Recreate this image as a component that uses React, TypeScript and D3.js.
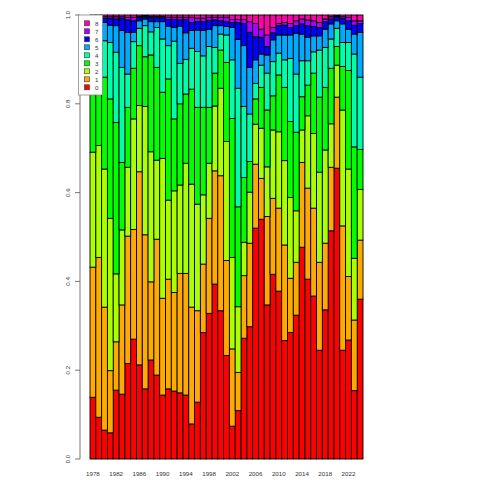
import React from "react";
import * as d3 from "d3";

const years = d3.range(1978, 2025).map(String);
const categories = ["0", "1", "2", "3", "4", "5", "6", "7", "8"];
const colors = ["#FF0000", "#FFAA00", "#AAFF00", "#00FF00", "#00FFAA", "#00AAFF", "#0000FF", "#AA00FF", "#FF00AA"];

// share of each category per year (1978..2024)
const s0 = [.139, .094, .065, .059, .155, .146, .215, .270, .212, .158, .223, .189, .144, .158, .153, .149, .144, .079, .128, .285, .328, .394, .334, .233, .074, .109, .272, .298, .520, .540, .347, .416, .378, .267, .285, .324, .477, .405, .367, .245, .336, .514, .655, .245, .268, .154, .360];
const s1 = [.293, .360, .277, .140, .109, .201, .287, .247, .435, .347, .176, .306, .218, .247, .222, .269, .274, .263, .206, .154, .214, .255, .304, .214, .174, .086, .141, .188, .144, .092, .199, .171, .187, .215, .122, .119, .191, .205, .198, .198, .150, .143, .160, .280, .143, .159, .133];
const s2 = [.259, .252, .311, .343, .153, .169, .155, .249, .149, .289, .293, .178, .315, .178, .229, .199, .248, .277, .240, .156, .124, .146, .197, .268, .206, .148, .075, .115, .090, .113, .112, .154, .172, .190, .182, .116, .073, .163, .168, .203, .210, .098, .072, .261, .242, .139, .114];
const s3 = [.169, .164, .207, .269, .341, .152, .135, .114, .135, .112, .218, .209, .149, .273, .162, .183, .156, .214, .218, .197, .126, .074, .086, .178, .313, .225, .146, .069, .057, .092, .128, .077, .128, .165, .171, .177, .075, .069, .136, .169, .141, .125, .042, .098, .222, .251, .090];
const s4 = [.070, .070, .082, .127, .158, .214, .075, .060, .039, .070, .052, .090, .120, .075, .175, .091, .078, .092, .126, .116, .137, .058, .036, .062, .132, .267, .160, .107, .035, .050, .083, .077, .049, .062, .142, .131, .081, .055, .048, .106, .090, .066, .041, .054, .063, .209, .163];
const s5 = [.040, .035, .041, .039, .060, .083, .094, .021, .017, .015, .023, .013, .039, .044, .031, .084, .060, .040, .048, .057, .039, .049, .019, .019, .073, .110, .137, .105, .053, .025, .041, .049, .041, .056, .053, .092, .060, .053, .036, .032, .041, .034, .017, .042, .030, .045, .101];
const s6 = [.020, .015, .009, .015, .015, .027, .028, .026, .007, .005, .009, .009, .009, .015, .018, .014, .030, .018, .019, .020, .020, .013, .011, .011, .011, .038, .050, .079, .052, .038, .019, .016, .021, .022, .017, .017, .023, .026, .021, .019, .017, .011, .009, .012, .019, .020, .020];
const s7 = [.005, .006, .004, .004, .005, .004, .006, .008, .003, .002, .003, .003, .003, .005, .005, .006, .005, .012, .008, .008, .007, .006, .008, .010, .007, .007, .009, .024, .030, .018, .026, .012, .005, .006, .009, .011, .011, .013, .013, .011, .006, .005, .002, .004, .008, .010, .006];
const s8 = [.005, .004, .004, .004, .004, .004, .005, .005, .003, .002, .003, .003, .003, .005, .005, .005, .005, .005, .007, .007, .005, .005, .005, .005, .010, .010, .010, .015, .019, .032, .045, .028, .019, .017, .019, .013, .009, .011, .013, .017, .009, .004, .002, .004, .005, .013, .013];

const series = [s0, s1, s2, s3, s4, s5, s6, s7, s8];
const yTicks = [0, 0.2, 0.4, 0.6, 0.8, 1.0];
const xLabelYears = years.filter((_, i) => i % 4 === 0);

export default function App() {
  const rows = years.map((y, i) => {
    const r: any = { year: y };
    categories.forEach((c, k) => (r[c] = series[k][i]));
    return r;
  });
  const stack = d3.stack().keys(categories).offset(d3.stackOffsetExpand);
  const stacked = stack(rows);

  const x = d3.scaleBand().domain(years).range([90, 363]).padding(0);
  const y = d3.scaleLinear().domain([0, 1]).range([459, 15]);
  const font = "'Liberation Sans', Arial, Helvetica, sans-serif";

  return (
    <svg width={480} height={480} style={{ position: "absolute", left: 0, top: 0, background: "#fff" }}>
      <g>
        {stacked.map((layer, k) => (
          <g key={k} fill={colors[k]}>
            {layer.map((d: any, i: number) => (
              <rect
                key={i}
                x={x(years[i])}
                y={y(d[1])}
                width={x.bandwidth()}
                height={Math.max(0, y(d[0]) - y(d[1]))}
                stroke="#000"
                strokeWidth={0.9}
              />
            ))}
          </g>
        ))}
      </g>
      {/* y axis */}
      <g fontFamily={font} fontSize={6.2} fill="#333">
        <line x1={80} x2={80} y1={y(0)} y2={y(1)} stroke="#555" strokeWidth={0.8} />
        {yTicks.map((t) => (
          <g key={t}>
            <line x1={75} x2={80} y1={y(t)} y2={y(t)} stroke="#555" strokeWidth={0.8} />
            <text transform={`translate(69.5,${y(t)}) rotate(-90)`} textAnchor="middle">
              {t.toFixed(1)}
            </text>
          </g>
        ))}
      </g>
      {/* x labels */}
      <g fontFamily={font} fontSize={6.2} fill="#333">
        {xLabelYears.map((yr) => (
          <text key={yr} x={(x(yr) as number) + x.bandwidth() / 2} y={476} textAnchor="middle">
            {yr}
          </text>
        ))}
      </g>
      {/* legend */}
      <g fontFamily={font} fontSize={6.2} fill="#333">
        <rect x={78.5} y={15} width={24} height={80} fill="#fff" stroke="#888" strokeWidth={0.8} />
        {categories
          .slice()
          .reverse()
          .map((c, j) => {
            const k = categories.length - 1 - j;
            const cy = 23.3 + j * 8;
            return (
              <g key={c}>
                <rect x={84.5} y={cy - 2.5} width={5} height={5} fill={colors[k]} stroke="#333" strokeWidth={0.6} />
                <text x={95} y={cy + 2.2}>{c}</text>
              </g>
            );
          })}
      </g>
    </svg>
  );
}
